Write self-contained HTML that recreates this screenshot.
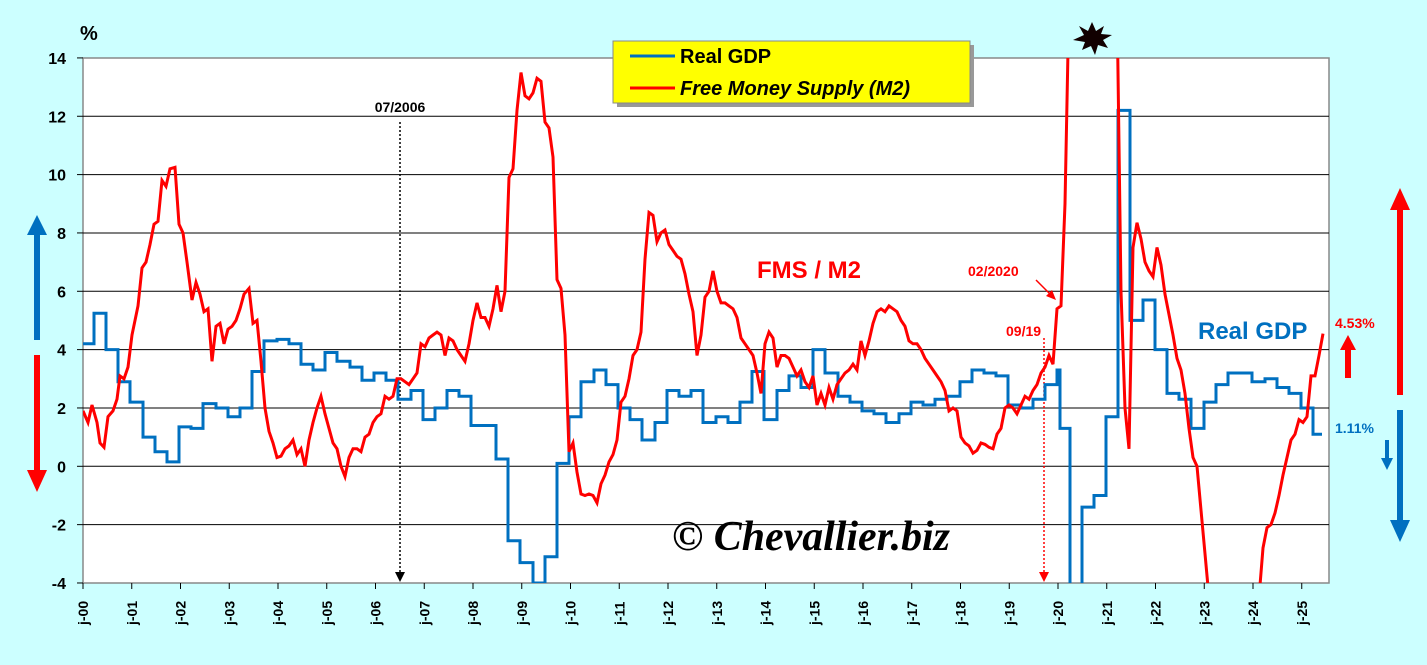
<!DOCTYPE html><html><head><meta charset="utf-8"><style>
html,body{margin:0;background:#ccffff;overflow:hidden;width:1427px;height:665px;}
svg{display:block;font-family:"Liberation Sans",Arial,sans-serif;}
</style></head><body>
<svg id="s" width="1427" height="665" viewBox="0 0 1427 665">
<rect width="1427" height="665" fill="#ccffff"/>
<rect x="83" y="58" width="1246" height="525" fill="#fff" stroke="#888" stroke-width="1.5"/>
<g id="grid"></g>
<defs><clipPath id="c"><rect x="83" y="58" width="1246" height="525"/></clipPath></defs>
<line x1="400" y1="122" x2="400" y2="574" stroke="#000" stroke-width="1.5" stroke-dasharray="2,2"/>
<polygon points="395,572 405,572 400,582" fill="#000"/>
<line x1="1044" y1="338" x2="1044" y2="574" stroke="#f00" stroke-width="1.5" stroke-dasharray="2,2"/>
<polygon points="1039,572 1049,572 1044,582" fill="#f00"/>
<g clip-path="url(#c)"><path id="blue" fill="none" stroke="#0070c0" stroke-width="3"/><path id="red" fill="none" stroke="#f00" stroke-width="3"/></g>
<text x="80" y="40" font-size="20" font-weight="bold">%</text>
<g id="ylab" font-size="16" font-weight="bold" text-anchor="end"></g>
<g id="xlab" font-size="14" font-weight="bold"></g>
<rect x="617" y="45" width="357" height="62" fill="#999"/>
<rect x="613" y="41" width="357" height="62" fill="#ffff00" stroke="#888"/>
<line x1="630" y1="56" x2="675" y2="56" stroke="#0070c0" stroke-width="3"/>
<text x="680" y="63" font-size="20" font-weight="bold">Real GDP</text>
<line x1="630" y1="88" x2="675" y2="88" stroke="#f00" stroke-width="3"/>
<text x="680" y="95" font-size="20" font-weight="bold" font-style="italic">Free Money Supply (M2)</text>
<text x="400" y="112" font-size="14" font-weight="bold" text-anchor="middle">07/2006</text>
<text x="757" y="278" font-size="24" font-weight="bold" fill="#f00">FMS / M2</text>
<text x="968" y="276" font-size="14" font-weight="bold" fill="#f00">02/2020</text>
<line x1="1036" y1="280" x2="1050" y2="294" stroke="#f00" stroke-width="1.5"/>
<polygon points="1046,296 1056,300 1052,290" fill="#f00"/>
<text x="1006" y="336" font-size="14" font-weight="bold" fill="#f00">09/19</text>
<text x="1198" y="339" font-size="24" font-weight="bold" fill="#0070c0">Real GDP</text>
<text x="1335" y="328" font-size="14" font-weight="bold" fill="#f00">4.53%</text>
<text x="1335" y="433" font-size="14" font-weight="bold" fill="#0070c0">1.11%</text>
<text x="672" y="550" font-size="42" font-style="italic" font-weight="bold" font-family="Liberation Serif,serif" textLength="278" lengthAdjust="spacingAndGlyphs">© Chevallier.biz</text>
<polygon points="1092,22 1096,31 1104,26 1101,34 1112,35 1103,40 1108,48 1098,45 1095,55 1091,46 1082,50 1085,42 1073,40 1084,35 1079,26 1088,31" fill="#100"/>
<path d="M34,340 L34,235 L27,235 L37,215 L47,235 L40,235 L40,340z" fill="#0070c0"/>
<path d="M34,355 L34,470 L27,470 L37,492 L47,470 L40,470 L40,355z" fill="#f00"/>
<path d="M1397,395 L1397,210 L1390,210 L1400,188 L1410,210 L1403,210 L1403,395z" fill="#f00"/>
<path d="M1397,410 L1397,520 L1390,520 L1400,542 L1410,520 L1403,520 L1403,410z" fill="#0070c0"/>
<path d="M1345,378 L1345,350 L1340,350 L1348,335 L1356,350 L1351,350 L1351,378z" fill="#f00"/>
<path d="M1385,440 L1385,458 L1381,458 L1387,470 L1393,458 L1389,458 L1389,440z" fill="#0070c0"/>
</svg>
<script>
var Y=v=>466.3-29.17*v;
var g='',yl='';
for(var v=-4;v<=14;v+=2){var y=Y(v);if(v>-4&&v<14)g+='<line x1="83" x2="1329" y1="'+y+'" y2="'+y+'" stroke="#000" stroke-width="1"/>';yl+='<text x="66" y="'+(y+6)+'">'+v+'</text>';g+='<line x1="77" x2="83" y1="'+y+'" y2="'+y+'" stroke="#000"/>';}
document.getElementById('grid').innerHTML=g;document.getElementById('ylab').innerHTML=yl;
var xl='';for(var i=0;i<=25;i++){var x=83+48.75*i;xl+='<line x1="'+x+'" x2="'+x+'" y1="583" y2="589" stroke="#000"/><text transform="translate('+(x+5)+',625) rotate(-90)">j-'+(i<10?'0':'')+i+'</text>';}
document.getElementById('xlab').innerHTML=xl;
var r=[83,1.9,88,1.5,92,2.1,97,1.5,100,.8,104,.65,108,1.7,113,1.9,117,2.3,120,3.1,124,3,128,3.4,132,4.5,138,5.5,142,6.8,146,7,150,7.6,154,8.3,158,8.4,162,9.8,166,9.6,170,10.2,175,10.25,179,8.3,183,8,187,7,192,5.7,196,6.3,200,5.9,204,5.3,208,5.4,212,3.6,216,4.8,220,4.9,224,4.2,228,4.7,232,4.8,236,5,240,5.4,244,5.9,249,6.1,253,4.9,257,5,261,3.6,265,2,269,1.2,273,.8,277,.3,281,.35,285,.6,289,.7,293,.9,297,.4,301,.6,305,0,309,.9,313,1.5,317,2,321,2.4,325,1.8,329,1.3,333,.8,337,.6,341,0,345,-.35,349,.3,353,.6,357,.6,361,.5,365,1,369,1.1,373,1.5,377,1.7,381,1.8,385,2.4,389,2.3,393,2.4,397,3,401,3,405,2.9,409,2.8,413,3,417,3.2,421,4.2,425,4.1,429,4.4,433,4.5,437,4.6,441,4.5,445,3.8,449,4.4,453,4.3,457,4,461,3.8,465,3.6,469,4.2,473,5,477,5.6,481,5.1,485,5.1,489,4.8,493,5.4,497,6.2,501,5.3,505,6,509,9.9,513,10.2,517,12.2,521,13.5,525,12.7,529,12.6,533,12.8,537,13.3,541,13.2,545,11.8,549,11.6,553,10.6,557,6.4,561,6.1,565,4.5,569,.5,573,.8,577,-.2,581,-.95,585,-1,589,-.95,593,-1,597,-1.25,601,-.6,605,-.3,609,.15,613,.4,617,.9,621,2.2,625,2.4,629,3,633,3.8,637,4,641,4.6,645,7.1,649,8.7,653,8.6,657,7.7,661,8,665,8.1,669,7.6,673,7.4,677,7.2,681,7.1,685,6.6,689,5.9,693,5.3,697,3.8,701,4.5,705,5.8,709,6,713,6.7,717,6,721,5.6,725,5.6,729,5.5,733,5.4,737,5.1,741,4.4,745,4.2,749,4,753,3.8,757,3.2,761,2.5,765,4.2,769,4.6,773,4.4,777,3.4,781,3.8,785,3.8,789,3.7,793,3.4,797,3.1,801,3.3,805,2.9,809,2.7,813,3.1,817,2.1,821,2.5,825,2.1,829,2.7,833,2.3,837,2.8,841,3,845,3.2,849,3.3,853,3.5,857,3.3,861,4.3,865,3.8,869,4.3,873,4.9,877,5.3,881,5.4,885,5.3,889,5.5,893,5.4,897,5.3,901,5,905,4.8,909,4.3,913,4.2,917,4.2,921,4,925,3.7,929,3.5,933,3.3,937,3.1,941,2.9,945,2.6,949,1.9,953,2,957,1.9,961,1,965,.8,969,.7,973,.45,977,.55,981,.8,985,.75,989,.65,993,.6,997,1.1,1001,1.3,1005,2,1009,2.1,1013,2,1017,1.8,1021,2.1,1025,2.4,1029,2.3,1033,2.6,1037,2.8,1041,3.2,1045,3.4,1049,3.8,1053,3.5,1057,5.4,1061,5.5,1065,9,1069,16,1117,16,1121,6,1125,2,1129,.6,1133,7.5,1137,8.35,1141,7.8,1145,7,1149,6.7,1153,6.5,1157,7.5,1161,6.9,1165,5.9,1169,5.2,1173,4.5,1177,3.7,1181,3.3,1185,2.5,1189,1.3,1193,.3,1197,0,1201,-1.5,1205,-3,1209,-4.5,1259,-4.5,1263,-2.8,1267,-2.1,1271,-2,1275,-1.6,1279,-1,1283,-.3,1287,.3,1291,.9,1295,1.1,1299,1.6,1303,1.5,1307,1.7,1311,3.1,1315,3.1,1319,3.8,1323,4.55];
var d='';for(var i=0;i<r.length;i+=2)d+=(i?'L':'M')+r[i]+','+Y(r[i+1]).toFixed(1);
document.getElementById('red').setAttribute('d',d);
var b=[83,4.2,94,5.25,106,4,118,2.9,130,2.2,143,1,155,.5,167,.15,179,1.35,191,1.3,203,2.15,216,2,228,1.7,240,2,252,3.25,264,4.3,277,4.35,289,4.2,301,3.5,313,3.3,325,3.9,337,3.6,350,3.4,362,2.95,374,3.2,386,2.95,398,2.3,411,2.6,423,1.6,435,2,447,2.6,459,2.4,471,1.4,496,.25,508,-2.55,520,-3.3,533,-4,545,-3.1,557,.1,569,1.7,581,2.9,594,3.3,606,2.8,618,2,630,1.6,642,.9,655,1.5,667,2.6,679,2.4,691,2.6,703,1.5,716,1.7,728,1.5,740,2.2,752,3.25,764,1.6,777,2.6,789,3.1,801,2.7,813,4,825,3.2,838,2.4,850,2.2,862,1.9,874,1.8,886,1.5,899,1.8,911,2.2,923,2.1,935,2.3,947,2.4,960,2.9,972,3.3,984,3.2,996,3.1,1008,2.1,1021,2,1033,2.3,1045,2.8,1057,3.3,1060,1.3,1070,-8,1082,-1.4,1094,-1,1106,1.7,1118,12.2,1130,5,1143,5.7,1155,4,1167,2.5,1179,2.3,1191,1.3,1204,2.2,1216,2.8,1228,3.2,1240,3.2,1252,2.9,1265,3,1277,2.7,1289,2.5,1301,2,1313,1.1,1322,1.1];
d='';for(var i=0;i<b.length;i+=2){var y=Y(b[i+1]).toFixed(1);d+=(i?'L'+b[i]+','+Y(b[i-1]).toFixed(1)+'L':'M')+b[i]+','+y;}
document.getElementById('blue').setAttribute('d',d);
</script>
</body></html>
